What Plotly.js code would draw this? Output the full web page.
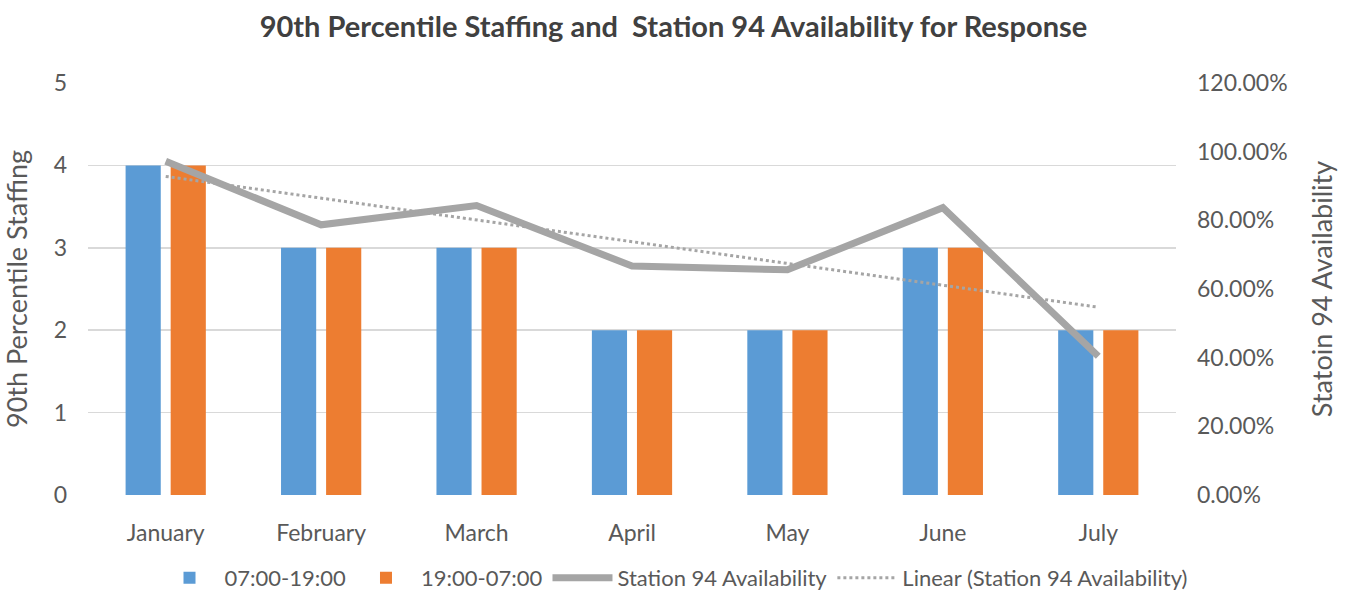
<!DOCTYPE html>
<html>
<head>
<meta charset="utf-8">
<script src="https://cdn.plot.ly/plotly-3.0.1.min.js"></script>
<style>html,body{margin:0;padding:0;background:#fff;}#chart{width:1347px;height:602px;}</style>
</head>
<body>
<div id="chart"></div>
<script>
const months = ["January","February","March","April","May","June","July"];
const dayShift = [4,3,3,2,2,3,2];
const nightShift = [4,3,3,2,2,3,2];
const availability = [0.972,0.787,0.843,0.667,0.656,0.837,0.404];
const linearTrend = [0.928,0.865,0.801,0.738,0.674,0.611,0.547];
const leftTicks = [0,1,2,3,4,5];
const rightTicks = [0,0.2,0.4,0.6,0.8,1.0,1.2];

const font = "Lato, 'Open Sans', sans-serif";
const grey = "#595959";

const traces = [
  {type:"bar", name:"07:00-19:00", x:months, y:dayShift, marker:{color:"#5b9bd5"}},
  {type:"bar", name:"19:00-07:00", x:months, y:nightShift, marker:{color:"#ed7d31"}},
  {type:"scatter", mode:"lines", name:"Station 94 Availability", x:months, y:availability, yaxis:"y2",
   line:{color:"#a5a5a5", width:7}},
  {type:"scatter", mode:"lines", name:"Linear (Station 94 Availability)", x:months, y:linearTrend, yaxis:"y2",
   line:{color:"#a5a5a5", width:3, dash:"dot"}}
];

const layout = {
  width:1347, height:602,
  margin:{l:88, r:171, t:83, b:107},
  paper_bgcolor:"#fff", plot_bgcolor:"#fff",
  font:{family:font, color:grey, size:23},
  title:{text:"<b>90th Percentile Staffing and  Station 94 Availability for Response</b>",
         x:0.5, xanchor:"center", y:0.955, yanchor:"middle", font:{family:font, size:29, color:"#404040"}},
  barmode:"group", bargap:0.42, bargroupgap:0.22,
  showlegend:true,
  legend:{orientation:"h", x:0.5, xanchor:"center", xref:"container", y:0.005, yref:"container", yanchor:"bottom",
          font:{family:font, size:22, color:grey}, itemwidth:60, traceorder:"normal"},
  xaxis:{type:"category", showgrid:false, showline:false, ticks:"", zeroline:false, automargin:false,
         tickfont:{family:font, size:23, color:grey}, ticklabelstandoff:22},
  yaxis:{range:[0,5], tickvals:leftTicks, showgrid:true, gridcolor:"#d9d9d9", gridwidth:1.5,
         zeroline:false, showline:false, ticks:"", ticklabelstandoff:20, automargin:false,
         tickfont:{family:font, size:23, color:grey},
         title:{text:"90th Percentile Staffing", font:{family:font, size:27, color:grey}, standoff:18}},
  yaxis2:{range:[0,1.2], tickvals:rightTicks, tickformat:".2%", overlaying:"y", side:"right",
          showgrid:false, zeroline:false, showline:false, ticks:"", ticklabelstandoff:20, automargin:false,
          tickfont:{family:font, size:23, color:grey},
          title:{text:"Statoin 94 Availability", font:{family:font, size:27, color:grey}, standoff:26}}
};

Plotly.newPlot("chart", traces, layout, {displayModeBar:false, staticPlot:true});
</script>
</body>
</html>
